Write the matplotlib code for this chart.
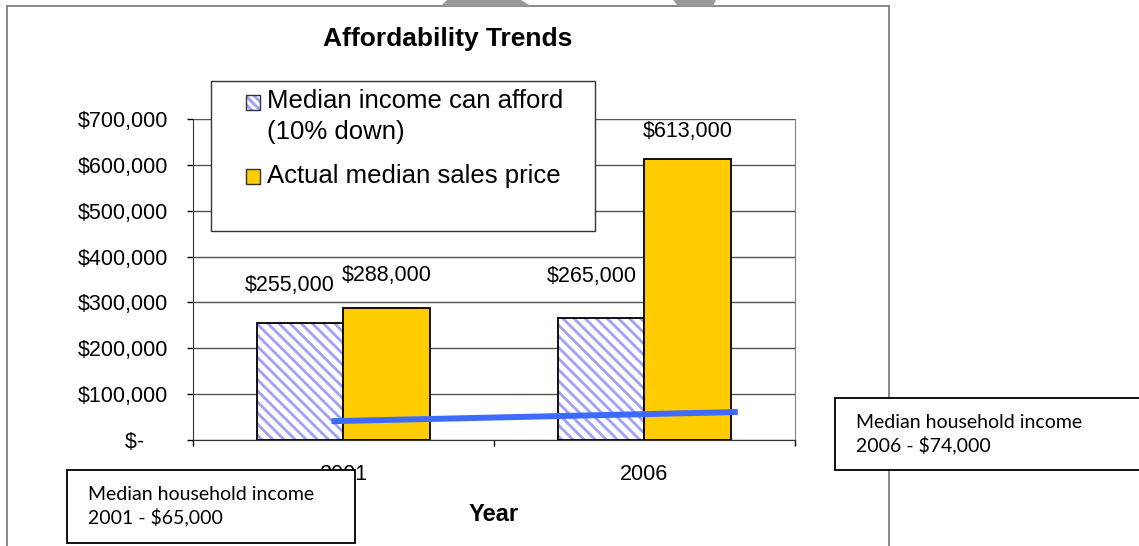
import numpy as np
import matplotlib
matplotlib.use('Agg')
import matplotlib.pyplot as plt
from matplotlib.patches import Rectangle, Polygon
from matplotlib.ticker import FuncFormatter

plt.rcParams['font.family'] = ['Liberation Sans', 'DejaVu Sans']
plt.rcParams['hatch.linewidth'] = 2.0

years = ['2001', '2006']
can_afford = [255000, 265000]
sales_price = [288000, 613000]
# hand-drawn income line (category units, dollars)
income_line_x = [-0.04, 1.31]
income_line_y = [41000, 61000]
income_notes = ['Median household income\n2001 - $65,000',
                'Median household income\n2006 - $74,000']

W, H = 1139, 546
fig = plt.figure(figsize=(W / 100, H / 100), dpi=100)


def fx(x):
    return x / W


def fy(y):
    return 1 - y / H


# outer frame of the pasted chart
fig.add_artist(Rectangle((fx(7), fy(560)), fx(889) - fx(7), fy(6) - fy(560),
                         transform=fig.transFigure, fill=False,
                         edgecolor='#808080', linewidth=1.3))
# grey shapes cut off at the top
for pts in ([(441, 6), (531, 6), (521, 0), (447, 0)],
            [(678, 6), (713, 6), (716, 0), (673, 0)]):
    fig.add_artist(Polygon([(fx(a), fy(b)) for a, b in pts], closed=True,
                           transform=fig.transFigure, color='#999999', lw=0))

ax = fig.add_axes([fx(193), fy(440), fx(795) - fx(193), fy(119) - fy(440)])
x = np.arange(len(years))
w = 0.286
HATCH = '\\\\\\'
HATCH_COLOR = '#a0a0f8'

# hatched bars: hatch in light purple, outline black
ax.bar(x - w / 2, can_afford, w, color='white', edgecolor=HATCH_COLOR,
       hatch=HATCH, linewidth=0, zorder=2)
ax.bar(x - w / 2, can_afford, w, color='none', edgecolor='black',
       linewidth=1.3, zorder=3)
ax.bar(x + w / 2, sales_price, w, color='#ffcc00', edgecolor='black',
       linewidth=1.3, zorder=3)

# data labels (Excel places them a bit loosely)
label_offsets = [(-11, 38), (0, 32), (-10, 42), (0, 27)]
vals = [(x[0] - w / 2, can_afford[0]), (x[0] + w / 2, sales_price[0]),
        (x[1] - w / 2, can_afford[1]), (x[1] + w / 2, sales_price[1])]
for (bx, v), (dx, dy) in zip(vals, label_offsets):
    ax.annotate(f'${v:,.0f}', (bx, v), xytext=(dx * 0.72, dy * 0.72),
                textcoords='offset points', ha='center', va='center',
                fontsize=15.5)

ax.plot(income_line_x, income_line_y, color='#3d6bff', linewidth=4.3,
        solid_capstyle='butt', zorder=4, clip_on=False)

ax.set_xlim(-0.5, 1.5)
ax.set_ylim(0, 700000)
ax.set_yticks(np.arange(0, 700001, 100000))
ax.yaxis.set_major_formatter(FuncFormatter(
    lambda v, p: '$-    ' if v == 0 else f'${v:,.0f}'))
ax.yaxis.grid(True, color='#555555', linewidth=1)
ax.set_axisbelow(True)
ax.tick_params(axis='y', length=4, width=1, pad=14, labelsize=15.5)

ax.set_xticks(x)
ax.set_xticklabels(years)
ax.set_xticks([-0.5, 0.5, 1.5], minor=True)
ax.tick_params(axis='x', which='major', length=0, pad=17, labelsize=15.5)
ax.tick_params(axis='x', which='minor', length=4, width=1)
ax.set_xlabel('Year', fontsize=17, fontweight='bold', labelpad=13)

ax.spines['top'].set_visible(False)
ax.spines['right'].set_color('#808080')
ax.spines['left'].set_color('#333333')
ax.spines['bottom'].set_color('#333333')

fig.text(fx(448), fy(39), 'Affordability Trends', ha='center', va='center',
         fontsize=19, fontweight='bold')

# legend box
fig.add_artist(Rectangle((fx(211), fy(231)), fx(595) - fx(211), fy(81) - fy(231),
                         transform=fig.transFigure, facecolor='white',
                         edgecolor='#333333', linewidth=1, zorder=5))
fig.add_artist(Rectangle((fx(246), fy(110)), fx(260) - fx(246), fy(95) - fy(110),
                         transform=fig.transFigure, facecolor='white',
                         edgecolor=HATCH_COLOR, hatch='\\\\\\\\', linewidth=0, zorder=6))
fig.add_artist(Rectangle((fx(246), fy(110)), fx(260) - fx(246), fy(95) - fy(110),
                         transform=fig.transFigure, fill=False,
                         edgecolor='#333333', linewidth=1, zorder=7))
fig.add_artist(Rectangle((fx(246), fy(184)), fx(260) - fx(246), fy(169) - fy(184),
                         transform=fig.transFigure, facecolor='#ffcc00',
                         edgecolor='#333333', linewidth=1, zorder=7))
fig.text(fx(267), fy(101), 'Median income can afford', ha='left', va='center',
         fontsize=18.5, zorder=8)
fig.text(fx(267), fy(132), '(10% down)', ha='left', va='center',
         fontsize=18.5, zorder=8)
fig.text(fx(267), fy(176), 'Actual median sales price', ha='left', va='center',
         fontsize=18.5, zorder=8)

# note boxes
for (x0, y0, x1, y1), note in zip([(67, 470, 355, 543), (835, 398, 1145, 470)],
                                  income_notes):
    fig.add_artist(Rectangle((fx(x0), fy(y1)), fx(x1) - fx(x0), fy(y0) - fy(y1),
                             transform=fig.transFigure, facecolor='white',
                             edgecolor='black', linewidth=1.3, zorder=9))
    fig.text(fx(x0 + 21), fy((y0 + y1) / 2), note, ha='left', va='center',
             fontsize=14, family=['Lato', 'DejaVu Sans'], linespacing=1.3,
             zorder=10)

fig.savefig('out.png', dpi=100)
